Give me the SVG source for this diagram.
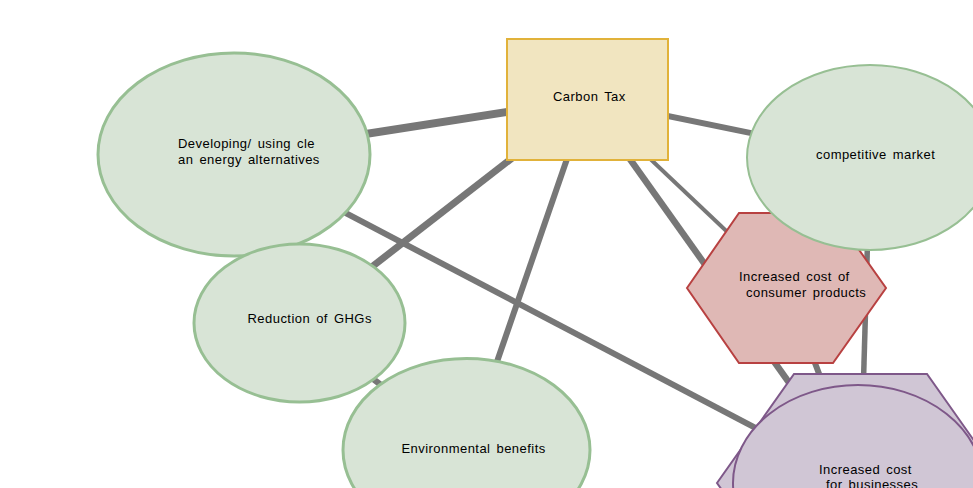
<svg xmlns="http://www.w3.org/2000/svg" width="973" height="488" viewBox="0 0 973 488">
<style>
.c{stroke:#777777;stroke-linecap:butt;fill:none}
.g{fill:#d8e4d6;stroke:#97bf93;stroke-width:3}
.t{font-family:"Liberation Sans",Arial,sans-serif;font-size:13px;fill:#000;word-spacing:2px;letter-spacing:0.45px}
</style>
<rect width="973" height="488" fill="#ffffff"/>
<g id="connectors">
<line class="c" x1="587.5" y1="99.5" x2="234" y2="154.5" stroke-width="8"/>
<line class="c" x1="587.5" y1="99.5" x2="299.5" y2="323" stroke-width="7"/>
<line class="c" x1="587.5" y1="99.5" x2="466.5" y2="450" stroke-width="6"/>
<line class="c" x1="587.5" y1="99.5" x2="870" y2="157.5" stroke-width="6"/>
<line class="c" x1="587.5" y1="99.5" x2="786.5" y2="288" stroke-width="4"/>
<line class="c" x1="587.5" y1="99.5" x2="860.5" y2="483" stroke-width="6.5"/>
<line class="c" x1="786.5" y1="288" x2="860.5" y2="483" stroke-width="6"/>
<line class="c" x1="234" y1="154.5" x2="860.5" y2="483" stroke-width="6"/>
<line class="c" x1="299.5" y1="323" x2="466.5" y2="450" stroke-width="6"/>
<line class="c" x1="870" y1="157.5" x2="860.5" y2="483" stroke-width="5.5"/>
</g>
<g id="developing">
<ellipse class="g" cx="234" cy="154.5" rx="136" ry="101.5"/>
<text class="t" x="178" y="148">Developing/ using cle</text>
<text class="t" x="178" y="164">an energy alternatives</text>
</g>
<g id="reduction">
<ellipse class="g" cx="299.5" cy="323" rx="105.5" ry="79"/>
<text class="t" x="247.5" y="323">Reduction of GHGs</text>
</g>
<g id="environmental">
<ellipse class="g" cx="466.5" cy="450" rx="123.5" ry="91.5"/>
<text class="t" x="401.5" y="452.5">Environmental benefits</text>
</g>
<g id="carbon-tax">
<rect x="507" y="39" width="161" height="121" fill="#f1e5c0" stroke="#e1b23a" stroke-width="2"/>
<text class="t" x="553" y="101">Carbon Tax</text>
</g>
<g id="consumer-products">
<polygon points="687,288 739,213 833,213 886,288 833,363 739,363" fill="#dfb8b5" stroke="#b84141" stroke-width="2"/>
<text class="t" x="739" y="281">Increased cost of</text>
<text class="t" x="746" y="297">consumer products</text>
</g>
<g id="competitive-market">
<ellipse cx="870" cy="157.5" rx="123" ry="92.5" fill="#d8e4d6" stroke="#97bf93" stroke-width="2"/>
<text class="t" x="816" y="158.5">competitive market</text>
</g>
<g id="businesses">
<polygon points="717,483 794,374 927,374 1004,483 927,592 794,592" fill="#d0c6d5" stroke="#7e5889" stroke-width="2"/>
<ellipse cx="858" cy="483" rx="125" ry="98" fill="#d0c6d5" stroke="#7e5889" stroke-width="2"/>
<text class="t" x="819" y="473.5">Increased cost</text>
<text class="t" x="826" y="489">for businesses</text>
</g>
</svg>
